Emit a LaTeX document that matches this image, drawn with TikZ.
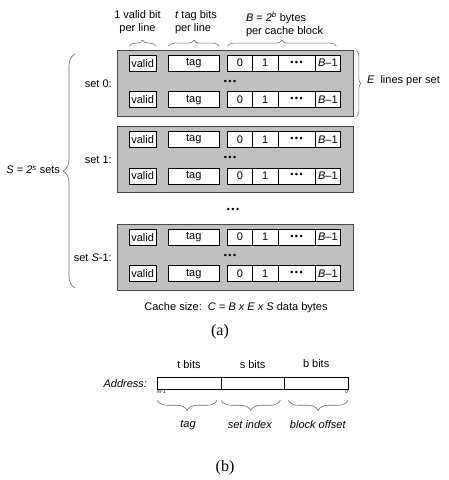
\documentclass[tikz,border=0pt]{standalone}
\usepackage{fontspec}
\setmainfont{Liberation Sans}
\newfontfamily\capfont{Liberation Serif}
\usetikzlibrary{positioning,decorations.pathreplacing}
\definecolor{setgray}{RGB}{192,192,192}
\definecolor{edgegray}{RGB}{70,70,70}
\definecolor{bracegray}{RGB}{110,110,110}

\begin{document}
\begin{tikzpicture}[
    x=1pt, y=1pt,
    every node/.style={font=\fontsize{11}{13.5}\selectfont, inner sep=0pt, outer sep=0pt},
    setbox/.style={draw=edgegray, line width=1pt, fill=setgray, minimum width=235.6pt, minimum height=66pt},
    cell/.style={draw, fill=white, line width=0.6pt, minimum height=16pt},
    validc/.style={cell, minimum width=26.7pt},
    tagc/.style={cell, minimum width=51pt},
    bytec/.style={cell, minimum width=25.3pt},
    dotc/.style={cell, minimum width=37.3pt, font=\fontsize{9}{9}\selectfont},
    dotrow/.style={font=\fontsize{9}{9}\selectfont},
    addrc/.style={draw, line width=0.6pt, minimum height=12.3pt},
    curly/.style={draw=bracegray, line width=0.6pt, decorate, decoration={brace, amplitude=#1}},
    tinylbl/.style={font=\fontsize{5}{5}\selectfont}
]
\useasboundingbox (0,0) rectangle (448,480);

% set 0
\node[setbox] (s0) at (235.5,396.5) {};
\node[left=6pt of s0] (s0lbl) {set 0:};
\node[validc] (s0a-v) at (142.65,416.8) {valid};
\node[tagc, right=12.3pt of s0a-v] (s0a-t) {tag};
\node[bytec, right=8pt of s0a-t] (s0a-0) {0};
\node[bytec, right=0pt of s0a-0] (s0a-1) {1};
\node[dotc, right=0pt of s0a-1] (s0a-d) {\textbullet\,\textbullet\,\textbullet};
\node[bytec, right=0pt of s0a-d] (s0a-B) {\textit{B}--1};
\node[dotrow] (s0dots) at (230,397.9) {\textbullet\,\textbullet\,\textbullet};
\node[validc] (s0b-v) at (142.65,380.3) {valid};
\node[tagc, right=12.3pt of s0b-v] (s0b-t) {tag};
\node[bytec, right=8pt of s0b-t] (s0b-0) {0};
\node[bytec, right=0pt of s0b-0] (s0b-1) {1};
\node[dotc, right=0pt of s0b-1] (s0b-d) {\textbullet\,\textbullet\,\textbullet};
\node[bytec, right=0pt of s0b-d] (s0b-B) {\textit{B}--1};

% set 1
\node[setbox] (s1) at (235.5,320.3) {};
\node[left=6pt of s1] (s1lbl) {set 1:};
\node[validc] (s1a-v) at (142.65,340.6) {valid};
\node[tagc, right=12.3pt of s1a-v] (s1a-t) {tag};
\node[bytec, right=8pt of s1a-t] (s1a-0) {0};
\node[bytec, right=0pt of s1a-0] (s1a-1) {1};
\node[dotc, right=0pt of s1a-1] (s1a-d) {\textbullet\,\textbullet\,\textbullet};
\node[bytec, right=0pt of s1a-d] (s1a-B) {\textit{B}--1};
\node[dotrow] (s1dots) at (230,321.7) {\textbullet\,\textbullet\,\textbullet};
\node[validc] (s1b-v) at (142.65,304.1) {valid};
\node[tagc, right=12.3pt of s1b-v] (s1b-t) {tag};
\node[bytec, right=8pt of s1b-t] (s1b-0) {0};
\node[bytec, right=0pt of s1b-0] (s1b-1) {1};
\node[dotc, right=0pt of s1b-1] (s1b-d) {\textbullet\,\textbullet\,\textbullet};
\node[bytec, right=0pt of s1b-d] (s1b-B) {\textit{B}--1};

\node[dotrow] (setdots) at (233,269.3) {\textbullet\,\textbullet\,\textbullet};

% set S-1
\node[setbox] (sS) at (235.5,222.5) {};
\node[left=6pt of sS] (sSlbl) {set \textit{S}-1:};
\node[validc] (sSa-v) at (142.65,242.8) {valid};
\node[tagc, right=12.3pt of sSa-v] (sSa-t) {tag};
\node[bytec, right=8pt of sSa-t] (sSa-0) {0};
\node[bytec, right=0pt of sSa-0] (sSa-1) {1};
\node[dotc, right=0pt of sSa-1] (sSa-d) {\textbullet\,\textbullet\,\textbullet};
\node[bytec, right=0pt of sSa-d] (sSa-B) {\textit{B}--1};
\node[dotrow] (sSdots) at (230,223.9) {\textbullet\,\textbullet\,\textbullet};
\node[validc] (sSb-v) at (142.65,206.3) {valid};
\node[tagc, right=12.3pt of sSb-v] (sSb-t) {tag};
\node[bytec, right=8pt of sSb-t] (sSb-0) {0};
\node[bytec, right=0pt of sSb-0] (sSb-1) {1};
\node[dotc, right=0pt of sSb-1] (sSb-d) {\textbullet\,\textbullet\,\textbullet};
\node[bytec, right=0pt of sSb-d] (sSb-B) {\textit{B}--1};

% braces and labels round the cache
\draw[curly=6pt] ([yshift=9pt]s0a-v.north west) -- ([yshift=9pt]s0a-v.north east);
\draw[curly=6pt] ([yshift=9pt]s0a-t.north west) -- ([yshift=9pt]s0a-t.north east);
\draw[curly=6pt] ([yshift=9pt]s0a-0.north west) -- ([xshift=-4pt,yshift=9pt]s0a-B.north east);
\node[align=center] (vlbl) at (137.5,458) {1 valid bit\\per line};
\node[align=left, anchor=west] (tlbl) at (175,458) {\textit{t} tag bits\\per line};
\node[align=left, anchor=west] (blbl) at (246,455.5) {\textit{B} = \textit{2}\textsuperscript{\textit{b}} bytes\\per cache block};

\draw[curly=5pt] ([xshift=3pt]s0.north east) -- ([xshift=3pt]s0.south east);
\node[anchor=west] (elbl) at (367,399) {\textit{E}\ \ lines per set};

\coordinate (lb-bot) at (75,192);
\coordinate (lb-top) at (75,426);
\draw[curly=12pt] (lb-bot) -- (lb-top);
\node[anchor=east] (slbl) at (60,310) {\textit{S} = \textit{2}\textsuperscript{\textit{s}} sets};

\node (csize) at (236,172.7) {Cache size:\ \ \textit{C} = \textit{B x E x S} data bytes};
\node[font=\capfont\fontsize{16}{16}\selectfont] (capa) at (220,148.3) {(a)};

% address
\node[addrc, minimum width=64pt] (aT) at (189,96.85) {};
\node[addrc, minimum width=63.3pt, right=0pt of aT] (aS) {};
\node[addrc, minimum width=63.7pt, right=0pt of aS] (aB) {};
\node[left=10pt of aT] (addr) {\textit{Address:}};
\node[above=8pt of aT] (tbits) {t bits};
\node[above=8pt of aS] (sbits) {s bits};
\node[above=9pt of aB] (bbits) {b bits};
\node[tinylbl, below right=1pt and 0pt of aT.south west] (msb) {m-1};
\node[tinylbl, below left=1pt and 0pt of aB.south east] (lsb) {0};
\draw[curly=10pt] ([xshift=-4pt,yshift=-11pt]aT.south east) -- ([yshift=-11pt]aT.south west);
\draw[curly=10pt] ([xshift=-4pt,yshift=-11pt]aS.south east) -- ([yshift=-11pt]aS.south west);
\draw[curly=10pt] ([yshift=-11pt]aB.south east) -- ([xshift=4pt,yshift=-11pt]aB.south west);
\node (tagl) at (188,55) {\textit{tag}};
\node (setl) at (250,55) {\textit{set index}};
\node (offl) at (318,55) {\textit{block offset}};
\node[font=\capfont\fontsize{16}{16}\selectfont] (capb) at (225,12) {(b)};
\end{tikzpicture}
\end{document}
